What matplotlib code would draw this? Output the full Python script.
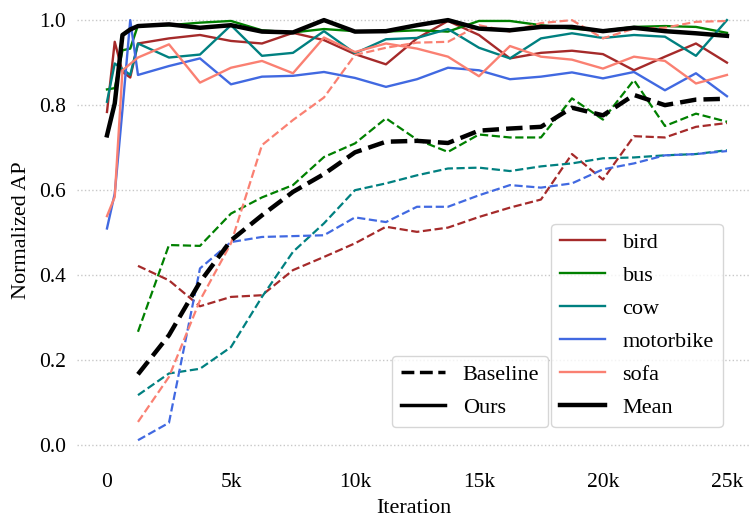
import numpy as np
import matplotlib
matplotlib.use("Agg")
import matplotlib.pyplot as plt
from matplotlib.lines import Line2D

plt.rcParams['font.family'] = ['Liberation Serif', 'DejaVu Serif']

# iterations
iters_ours = [0, 312.5, 625, 937.5, 1250, 2500, 3750, 5000, 6250, 7500, 8750, 10000,
              11250, 12500, 13750, 15000, 16250, 17500, 18750, 20000, 21250, 22500, 23750, 25000]
iters_base = [1250, 2500, 3750, 5000, 6250, 7500, 8750, 10000, 11250, 12500,
              13750, 15000, 16250, 17500, 18750, 20000, 21250, 22500, 23750, 25000]

classes = ["bird", "bus", "cow", "motorbike", "sofa"]
colors = ["#a52a2a", "#008000", "#008080", "#4169e1", "#fa8072"]

# Ours (solid)
bird_ours = [0.784, 0.949, 0.878, 0.865, 0.945, 0.957, 0.965, 0.951, 0.945, 0.970, 0.953, 0.920,
             0.896, 0.957, 0.998, 0.965, 0.910, 0.923, 0.928, 0.920, 0.882, 0.914, 0.945, 0.900]
bus_ours = [0.837, 0.840, 0.929, 0.933, 0.988, 0.988, 0.994, 0.998, 0.976, 0.971, 0.979, 0.974,
            0.973, 0.976, 0.973, 0.998, 0.998, 0.988, 0.980, 0.975, 0.984, 0.986, 0.984, 0.970]
cow_ours = [0.808, 0.898, 0.885, 0.871, 0.945, 0.912, 0.919, 0.988, 0.916, 0.923, 0.974, 0.922,
            0.955, 0.958, 0.979, 0.935, 0.910, 0.957, 0.969, 0.958, 0.965, 0.961, 0.916, 1.000]
motorbike_ours = [0.510, 0.592, 0.790, 1.000, 0.871, 0.892, 0.910, 0.849, 0.867, 0.869, 0.878, 0.864,
                  0.843, 0.861, 0.888, 0.882, 0.861, 0.867, 0.877, 0.863, 0.878, 0.835, 0.875, 0.821]
sofa_ours = [0.539, 0.584, 0.882, 0.897, 0.912, 0.943, 0.853, 0.888, 0.904, 0.875, 0.959, 0.925,
             0.945, 0.933, 0.914, 0.868, 0.939, 0.914, 0.907, 0.886, 0.914, 0.904, 0.851, 0.871]
mean_ours = [0.729, 0.804, 0.965, 0.978, 0.986, 0.990, 0.982, 0.988, 0.973, 0.971, 1.000, 0.973,
             0.974, 0.988, 1.000, 0.980, 0.976, 0.984, 0.984, 0.974, 0.982, 0.974, 0.969, 0.963]

# Baseline (dashed)
bird_base = [0.422, 0.388, 0.327, 0.349, 0.353, 0.412, 0.443, 0.475, 0.514, 0.502,
             0.512, 0.537, 0.559, 0.578, 0.685, 0.625, 0.727, 0.724, 0.749, 0.758]
bus_base = [0.267, 0.471, 0.469, 0.545, 0.583, 0.612, 0.678, 0.710, 0.769, 0.719,
            0.690, 0.731, 0.724, 0.724, 0.816, 0.766, 0.859, 0.751, 0.780, 0.761]
cow_base = [0.118, 0.169, 0.180, 0.231, 0.349, 0.455, 0.522, 0.600, 0.616, 0.635,
            0.651, 0.653, 0.645, 0.656, 0.663, 0.675, 0.677, 0.682, 0.685, 0.694]
motorbike_base = [0.012, 0.053, 0.416, 0.478, 0.490, 0.492, 0.494, 0.536, 0.525, 0.561,
                  0.561, 0.588, 0.612, 0.606, 0.616, 0.649, 0.663, 0.682, 0.685, 0.692]
sofa_base = [0.055, 0.161, 0.341, 0.475, 0.706, 0.765, 0.818, 0.918, 0.935, 0.947,
             0.949, 0.988, 0.973, 0.993, 1.000, 0.957, 0.980, 0.982, 0.996, 0.998]
mean_base = [0.167, 0.259, 0.384, 0.482, 0.541, 0.596, 0.638, 0.689, 0.714, 0.716,
             0.711, 0.740, 0.745, 0.749, 0.794, 0.776, 0.824, 0.800, 0.813, 0.815]

ours = [bird_ours, bus_ours, cow_ours, motorbike_ours, sofa_ours]
base = [bird_base, bus_base, cow_base, motorbike_base, sofa_base]

fig = plt.figure(figsize=(7.51, 5.17), dpi=100)
ax = fig.add_axes([0.1025, 0.114, 0.8975, 0.88])

for c, col, yo, yb in zip(classes, colors, ours, base):
    ax.plot(iters_base, yb, color=col, lw=1.6, ls="--")
    ax.plot(iters_ours, yo, color=col, lw=1.7, ls="-")
ax.plot(iters_base, mean_base, color="black", lw=3.2, ls="--")
ax.plot(iters_ours, mean_ours, color="black", lw=3.2, ls="-")

ax.set_xlim(-1210, 25970)
ax.set_ylim(-0.03, 1.04)
ax.set_xticks([0, 5000, 10000, 15000, 20000, 25000])
ax.set_xticklabels(["0", "5k", "10k", "15k", "20k", "25k"])
ax.set_yticks([0.0, 0.2, 0.4, 0.6, 0.8, 1.0])
ax.set_yticklabels(["0.0", "0.2", "0.4", "0.6", "0.8", "1.0"])
ax.tick_params(axis="x", length=0, labelsize=15.5, pad=11)
ax.tick_params(axis="y", length=0, labelsize=15.5, pad=8)
ax.grid(axis="y", ls=":", color="#c8c8c8", lw=1)
for s in ax.spines.values():
    s.set_visible(False)
ax.set_xlabel("Iteration", fontsize=16, labelpad=5)
ax.set_ylabel("Normalized AP", fontsize=16, labelpad=6)

h_cls = [Line2D([], [], color=col, lw=1.7) for col in colors]
h_cls.append(Line2D([], [], color="black", lw=3.2))
leg2 = ax.legend(h_cls, classes + ["Mean"], loc="lower right", bbox_to_anchor=(0.958, 0.068),
                 fontsize=16, handlelength=2.0, labelspacing=0.56, borderaxespad=0,
                 frameon=True, edgecolor="#cccccc", fancybox=True)
ax.add_artist(leg2)

h_method = [Line2D([], [], color="black", lw=2.5, ls="--"), Line2D([], [], color="black", lw=2.5)]
ax.legend(h_method, ["Baseline", "Ours"], loc="lower right", bbox_to_anchor=(0.699, 0.068),
          fontsize=16, handlelength=2.0, labelspacing=0.56, borderaxespad=0,
          frameon=True, edgecolor="#cccccc", fancybox=True)

fig.savefig("out.png", dpi=100)
